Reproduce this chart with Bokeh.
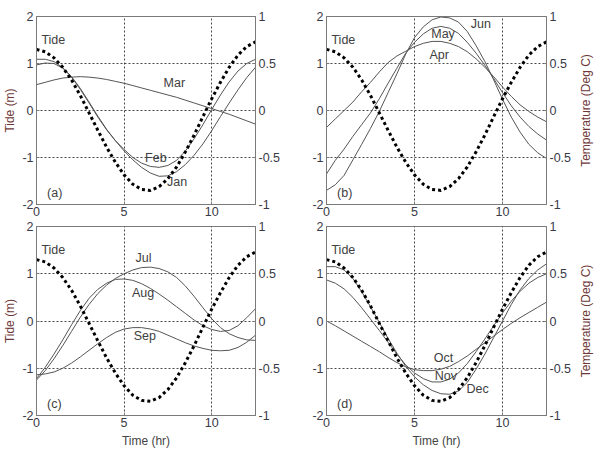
from bokeh.plotting import figure
from bokeh.layouts import row, column
from bokeh.models import Range1d, LinearAxis, FixedTicker, Label, Title
from bokeh.embed import file_html
from bokeh.resources import INLINE

# ---------------- data ----------------
time_hr = [0.0, 0.5, 1.0, 1.5, 2.0, 2.5, 3.0, 3.5, 4.0, 4.5, 5.0, 5.5, 6.0,
           6.5, 7.0, 7.5, 8.0, 8.5, 9.0, 9.5, 10.0, 10.5, 11.0, 11.5, 12.0, 12.5]

# tide height (m), left axis
tide_m = [1.30, 1.25, 1.12, 0.92, 0.65, 0.32, -0.05, -0.42, -0.78, -1.10, -1.37, -1.57, -1.68,
          -1.70, -1.62, -1.45, -1.20, -0.88, -0.52, -0.13, 0.25, 0.60, 0.92, 1.18, 1.36, 1.46]

# temperature anomaly (Deg C), right axis
jan = [0.485, 0.505, 0.50, 0.45, 0.36, 0.235, 0.09, -0.06, -0.20, -0.32, -0.43, -0.525, -0.605,
       -0.665, -0.70, -0.695, -0.65, -0.575, -0.475, -0.355, -0.215, -0.065, 0.08, 0.22, 0.35, 0.46]
feb = [0.545, 0.545, 0.52, 0.455, 0.355, 0.225, 0.08, -0.07, -0.205, -0.32, -0.415, -0.50, -0.56,
       -0.595, -0.605, -0.585, -0.53, -0.43, -0.30, -0.15, 0.01, 0.165, 0.305, 0.42, 0.50, 0.545]
mar = [0.275, 0.30, 0.325, 0.345, 0.355, 0.36, 0.355, 0.345, 0.33, 0.31, 0.29, 0.265, 0.24,
       0.215, 0.19, 0.165, 0.14, 0.11, 0.08, 0.05, 0.02, -0.01, -0.04, -0.075, -0.11, -0.145]
apr = [-0.18, -0.09, 0.0, 0.09, 0.20, 0.30, 0.41, 0.51, 0.58, 0.63, 0.68, 0.715, 0.735,
       0.735, 0.715, 0.68, 0.625, 0.55, 0.46, 0.36, 0.25, 0.15, 0.06, -0.01, -0.07, -0.12]
may = [-0.675, -0.53, -0.41, -0.275, -0.15, -0.025, 0.125, 0.29, 0.45, 0.61, 0.725, 0.815, 0.875,
       0.895, 0.875, 0.82, 0.725, 0.61, 0.48, 0.34, 0.19, 0.05, -0.07, -0.17, -0.25, -0.315]
jun = [-0.85, -0.79, -0.69, -0.525, -0.36, -0.19, -0.01, 0.19, 0.39, 0.60, 0.775, 0.89, 0.965,
       0.995, 0.985, 0.94, 0.84, 0.69, 0.52, 0.325, 0.12, -0.07, -0.23, -0.36, -0.45, -0.51]
jul = [-0.625, -0.525, -0.40, -0.26, -0.11, 0.04, 0.175, 0.29, 0.38, 0.45, 0.50, 0.54, 0.565,
       0.57, 0.555, 0.52, 0.46, 0.37, 0.26, 0.14, 0.025, -0.07, -0.135, -0.175, -0.20, -0.205]
aug = [-0.61, -0.49, -0.35, -0.20, -0.04, 0.11, 0.24, 0.335, 0.40, 0.44, 0.445, 0.43, 0.395,
       0.345, 0.285, 0.22, 0.15, 0.08, 0.01, -0.05, -0.09, -0.11, -0.10, -0.05, 0.035, 0.13]
sep = [-0.57, -0.56, -0.54, -0.50, -0.445, -0.38, -0.31, -0.24, -0.175, -0.12, -0.085, -0.07, -0.07,
       -0.085, -0.11, -0.15, -0.19, -0.23, -0.265, -0.29, -0.31, -0.315, -0.31, -0.28, -0.225, -0.15]
oct_ = [0.0, -0.05, -0.105, -0.16, -0.215, -0.27, -0.325, -0.385, -0.44, -0.485, -0.515, -0.525, -0.525,
        -0.51, -0.48, -0.43, -0.37, -0.30, -0.23, -0.16, -0.09, -0.025, 0.035, 0.09, 0.145, 0.20]
nov = [0.435, 0.40, 0.34, 0.25, 0.14, 0.02, -0.10, -0.225, -0.35, -0.465, -0.55, -0.61, -0.645,
       -0.645, -0.615, -0.55, -0.45, -0.325, -0.19, -0.05, 0.085, 0.21, 0.315, 0.40, 0.46, 0.50]
dec = [0.575, 0.575, 0.54, 0.45, 0.31, 0.15, -0.015, -0.185, -0.34, -0.48, -0.59, -0.675, -0.735,
       -0.77, -0.775, -0.74, -0.65, -0.51, -0.35, -0.175, 0.0, 0.175, 0.33, 0.45, 0.54, 0.605]

x_ticks = [0, 5, 10]
tide_ticks = [-2, -1, 0, 1, 2]
temp_ticks = [-1, -0.5, 0, 0.5, 1]
temp_tick_labels = {-1: "-1", -0.5: "-0.5", 0: "0", 0.5: "0.5", 1: "1"}
tide_tick_labels = {-2: "-2", -1: "-1", 0: "0", 1: "1", 2: "2"}

# panel contents: (tag, [(name, series, label x, label y on tide axis)])
panels = [
    ("(a)", [("Jan", jan, 7.45, -1.52), ("Feb", feb, 6.2, -1.02), ("Mar", mar, 7.25, 0.59)]),
    ("(b)", [("Apr", apr, 5.85, 1.18), ("May", may, 5.95, 1.62), ("Jun", jun, 8.2, 1.85)]),
    ("(c)", [("Jul", jul, 5.65, 1.33), ("Aug", aug, 5.45, 0.60), ("Sep", sep, 5.55, -0.32)]),
    ("(d)", [("Oct", oct_, 6.1, -0.79), ("Nov", nov, 6.15, -1.16), ("Dec", dec, 7.95, -1.44)]),
]

FONT = "Liberation Sans"
TICK_COLOR = "#3a3a48"
AXLABEL_COLOR = "#6e3838"
LINE_COLOR = "#555555"
FRAME_COLOR = "#7a7a7a"


def make_panel(idx, tag, months):
    top = idx < 2
    left_col = idx % 2 == 0
    p = figure(
        frame_width=219 if left_col else 220,
        frame_height=188 if top else 189,
        x_range=Range1d(0, 12.5), y_range=Range1d(-2, 2),
        output_backend="svg", toolbar_location=None,
        min_border_left=36 if left_col else 41,
        min_border_right=30 if left_col else 26,
        min_border_top=16 if top else 6,
        min_border_bottom=16 if top else 36,
        background_fill_color="white", border_fill_color="white",
    )
    p.extra_y_ranges = {"temp": Range1d(-1, 1)}
    p.outline_line_color = FRAME_COLOR
    p.outline_line_width = 1

    # axes
    p.xaxis.ticker = FixedTicker(ticks=x_ticks)
    p.yaxis.ticker = FixedTicker(ticks=tide_ticks)
    p.yaxis.major_label_overrides = tide_tick_labels
    rax = LinearAxis(y_range_name="temp", ticker=FixedTicker(ticks=temp_ticks))
    rax.major_label_overrides = temp_tick_labels
    p.add_layout(rax, "right")

    for ax in p.xaxis + p.yaxis + [rax]:
        ax.axis_line_color = FRAME_COLOR
        ax.major_tick_line_color = FRAME_COLOR
        ax.major_tick_in = 3
        ax.major_tick_out = 0
        ax.minor_tick_line_color = None
        ax.major_label_text_font = FONT
        ax.major_label_text_font_size = "12.5px"
        ax.major_label_text_color = TICK_COLOR
        ax.major_label_standoff = 3
        ax.axis_label_text_font = FONT
        ax.axis_label_text_font_size = "12px"
        ax.axis_label_text_font_style = "normal"
    p.xaxis[0].major_label_standoff = 2

    if left_col:
        p.yaxis[0].axis_label = "Tide (m)"
        p.yaxis[0].axis_label_text_color = AXLABEL_COLOR
        p.yaxis[0].axis_label_standoff = 2
    if not top:
        p.xaxis[0].axis_label = "Time (hr)"
        p.xaxis[0].axis_label_text_color = "#444444"
        p.xaxis[0].axis_label_standoff = 4

    # grid
    for g in (p.xgrid[0], p.ygrid[0]):
        g.grid_line_color = "#4a4a4a"
        g.grid_line_dash = "2 2"
        g.grid_line_width = 1

    # month curves (temperature axis)
    for name, series, lx, ly in months:
        p.line(time_hr, series, y_range_name="temp", line_color=LINE_COLOR, line_width=1)
        p.add_layout(Label(x=lx, y=ly, text=name, text_font=FONT, text_font_size="12.5px",
                           text_color="#404040", text_baseline="middle", text_align="left"))

    # tide curve
    p.line(time_hr, tide_m, line_color="black", line_width=3, line_dash="3 3")
    p.add_layout(Label(x=0.28, y=1.5, text="Tide", text_font=FONT, text_font_size="12.5px",
                       text_color="#404040", text_baseline="middle", text_align="left"))
    p.add_layout(Label(x=0.6, y=-1.75, text=tag, text_font=FONT, text_font_size="12.5px",
                       text_color="#404040", text_baseline="middle", text_align="left"))
    return p


def make_temp_title(top):
    # narrow strip carrying the temperature-axis title, reading bottom-to-top;
    # its frame matches the neighbouring panel so the row stays aligned
    q = figure(frame_width=7, frame_height=188 if top else 189,
               min_border_left=18, min_border_right=0,
               min_border_top=16 if top else 6, min_border_bottom=16 if top else 36,
               x_axis_location=None, y_axis_location=None,
               output_backend="svg", toolbar_location=None,
               outline_line_color=None, background_fill_color="white",
               border_fill_color="white")
    q.grid.visible = False
    q.title = None
    q.add_layout(Title(text="Temperature (Deg C)", align="center", standoff=0, offset=0,
                       text_font=FONT, text_font_size="12px", text_font_style="normal",
                       text_color=AXLABEL_COLOR), "left")
    return q


figs = [make_panel(i, tag, months) for i, (tag, months) in enumerate(panels)]
layout = column(row(figs[0], figs[1], make_temp_title(True), spacing=0),
                row(figs[2], figs[3], make_temp_title(False), spacing=0), spacing=0)

open("out.html", "w").write(file_html(layout, INLINE))
